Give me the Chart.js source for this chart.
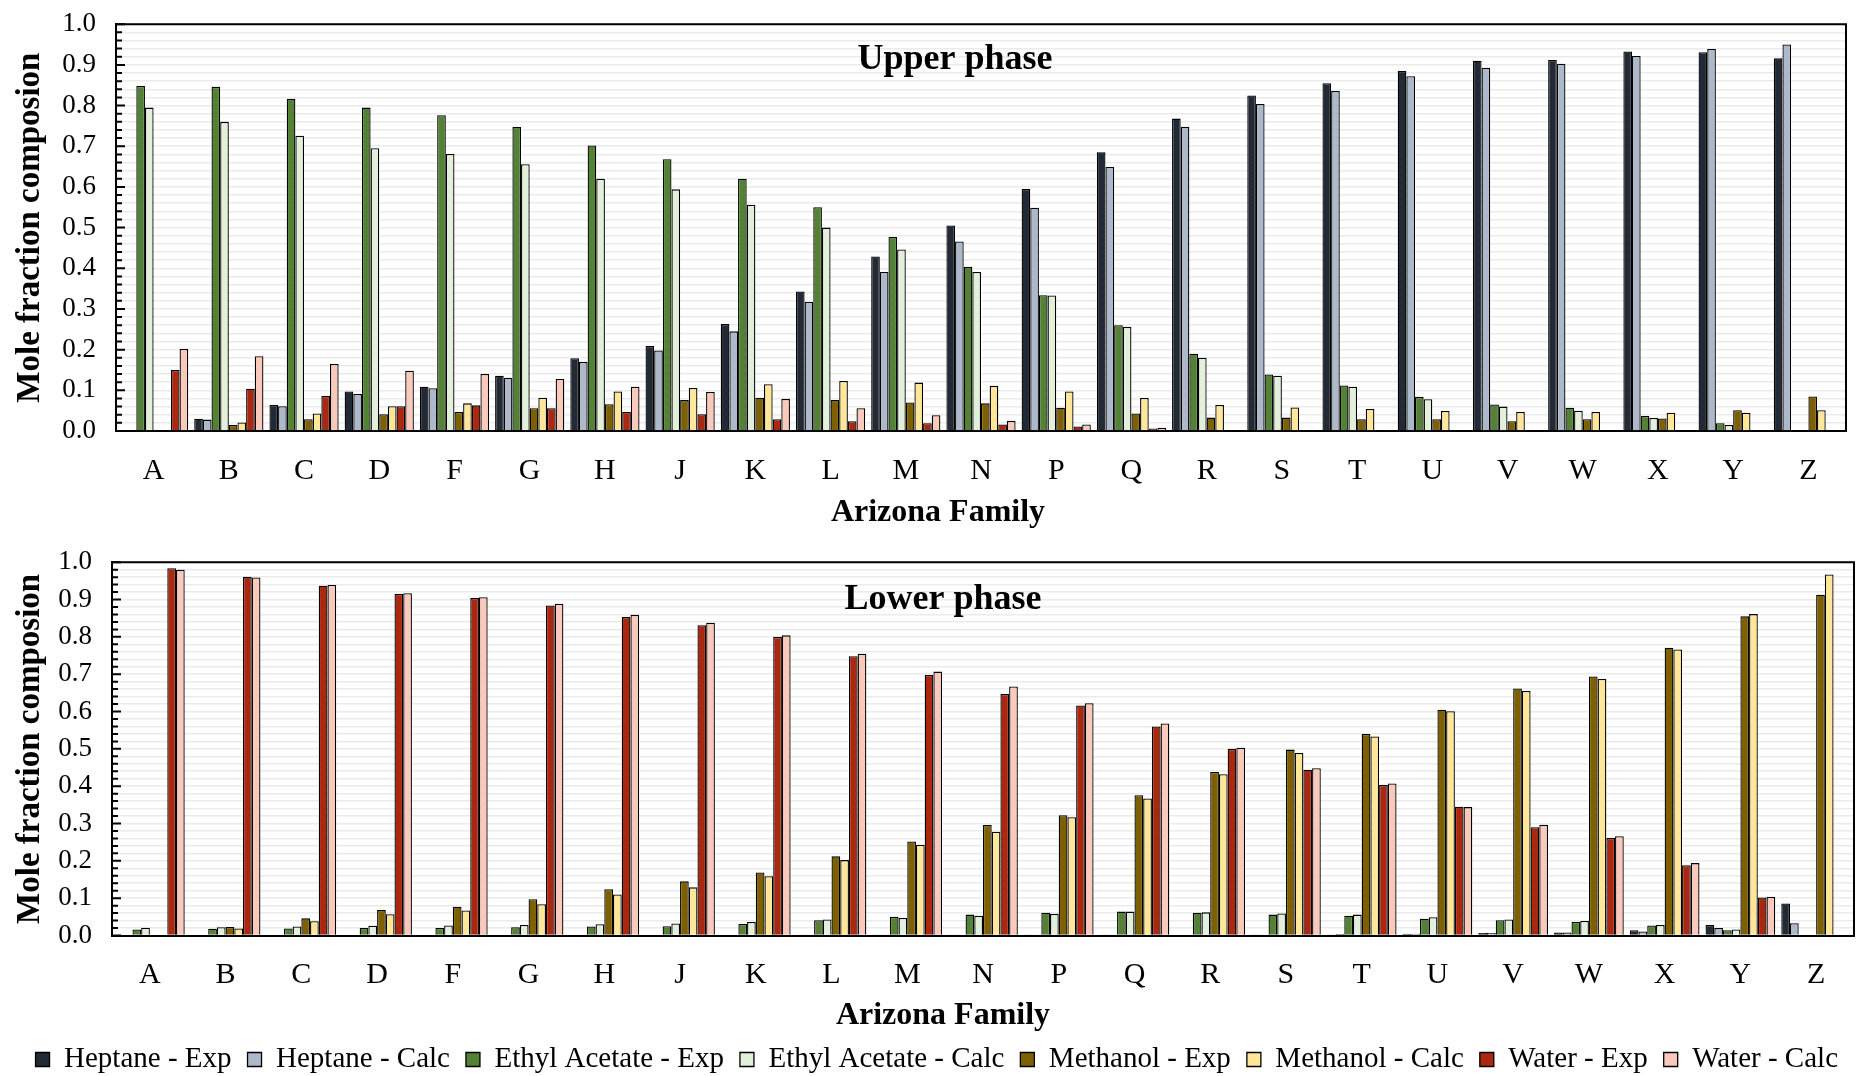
<!DOCTYPE html>
<html>
<head>
<meta charset="utf-8">
<script src="https://cdn.jsdelivr.net/npm/chart.js@4.4.1/dist/chart.umd.min.js"></script>
<style>
  html, body { margin: 0; padding: 0; background: #fff; overflow: hidden; }
  #upperBox { position: absolute; left: 0; top: -12px; width: 1861px; height: 542px; }
  #lowerBox { position: absolute; left: 0; top: 526px; width: 1861px; height: 558px; }
</style>
</head>
<body>
<div id="upperBox"><canvas id="upperChart"></canvas></div>
<div id="lowerBox"><canvas id="lowerChart"></canvas></div>
<script>
const families = ["A", "B", "C", "D", "F", "G", "H", "J", "K", "L", "M", "N", "P", "Q", "R", "S", "T", "U", "V", "W", "X", "Y", "Z"];

const seriesNames = [
    "Heptane - Exp", "Heptane - Calc",
    "Ethyl Acetate - Exp", "Ethyl Acetate - Calc",
    "Methanol - Exp", "Methanol - Calc",
    "Water - Exp", "Water - Calc",
];
const seriesColors = ["#222a35", "#adb9ca", "#548235", "#e2efda", "#7f6000", "#ffe699", "#ab2710", "#f9c9bb"];

const yTickValues = ["0.0", "0.1", "0.2", "0.3", "0.4", "0.5", "0.6", "0.7", "0.8", "0.9", "1.0"];

// upper phase
const heptaneExpUp = [0, 0.030, 0.064, 0.097, 0.109, 0.136, 0.179, 0.209, 0.263, 0.343, 0.429, 0.505, 0.595, 0.685, 0.768, 0.825, 0.855, 0.885, 0.910, 0.912, 0.933, 0.931, 0.916];
const heptaneCalcUp = [0, 0.028, 0.061, 0.091, 0.105, 0.131, 0.170, 0.198, 0.245, 0.317, 0.391, 0.466, 0.549, 0.649, 0.748, 0.804, 0.836, 0.872, 0.893, 0.903, 0.922, 0.939, 0.950];
const ethylAcetateExpUp = [0.848, 0.846, 0.817, 0.795, 0.776, 0.747, 0.702, 0.668, 0.620, 0.550, 0.477, 0.404, 0.334, 0.260, 0.190, 0.139, 0.112, 0.084, 0.065, 0.057, 0.037, 0.019, 0];
const ethylAcetateCalcUp = [0.795, 0.760, 0.726, 0.695, 0.681, 0.656, 0.620, 0.594, 0.556, 0.500, 0.446, 0.391, 0.333, 0.256, 0.180, 0.136, 0.109, 0.078, 0.060, 0.050, 0.032, 0.015, 0];
const methanolExpUp = [0, 0.015, 0.029, 0.041, 0.047, 0.056, 0.066, 0.076, 0.082, 0.076, 0.070, 0.068, 0.057, 0.043, 0.033, 0.033, 0.029, 0.029, 0.024, 0.029, 0.031, 0.051, 0.085];
const methanolCalcUp = [0, 0.021, 0.043, 0.061, 0.068, 0.082, 0.097, 0.106, 0.115, 0.123, 0.119, 0.111, 0.097, 0.081, 0.064, 0.058, 0.054, 0.049, 0.047, 0.047, 0.045, 0.045, 0.051];
const waterExpUp = [0.150, 0.104, 0.086, 0.061, 0.063, 0.056, 0.047, 0.041, 0.029, 0.024, 0.019, 0.016, 0.011, 0.006, 0.002, 0.001, 0.001, 0, 0, 0, 0, 0, 0];
const waterCalcUp = [0.202, 0.184, 0.165, 0.148, 0.140, 0.128, 0.109, 0.096, 0.079, 0.056, 0.039, 0.025, 0.016, 0.008, 0.002, 0.001, 0.001, 0, 0, 0, 0, 0, 0];

// lower phase
const heptaneExpLow = [0, 0, 0, 0, 0, 0, 0, 0, 0, 0.001, 0.001, 0.001, 0.001, 0.001, 0.002, 0.003, 0.003, 0.005, 0.007, 0.008, 0.014, 0.028, 0.086];
const heptaneCalcLow = [0, 0, 0, 0, 0, 0, 0, 0, 0, 0.001, 0.001, 0.001, 0.001, 0.001, 0.002, 0.003, 0.004, 0.005, 0.007, 0.008, 0.011, 0.020, 0.033];
const ethylAcetateExpLow = [0.016, 0.018, 0.019, 0.020, 0.020, 0.022, 0.024, 0.025, 0.031, 0.041, 0.050, 0.056, 0.061, 0.064, 0.061, 0.056, 0.053, 0.045, 0.041, 0.036, 0.027, 0.014, 0];
const ethylAcetateCalcLow = [0.021, 0.022, 0.024, 0.026, 0.027, 0.028, 0.030, 0.032, 0.036, 0.043, 0.047, 0.053, 0.058, 0.064, 0.062, 0.059, 0.056, 0.049, 0.043, 0.039, 0.028, 0.016, 0];
const methanolExpLow = [0, 0.023, 0.046, 0.068, 0.077, 0.097, 0.124, 0.145, 0.169, 0.212, 0.252, 0.296, 0.322, 0.376, 0.438, 0.498, 0.540, 0.605, 0.662, 0.694, 0.771, 0.855, 0.913];
const methanolCalcLow = [0, 0.019, 0.038, 0.057, 0.067, 0.084, 0.110, 0.129, 0.159, 0.202, 0.243, 0.278, 0.317, 0.367, 0.432, 0.489, 0.533, 0.601, 0.655, 0.687, 0.766, 0.861, 0.967];
const waterExpLow = [0.984, 0.961, 0.937, 0.915, 0.904, 0.884, 0.853, 0.831, 0.800, 0.748, 0.698, 0.647, 0.616, 0.560, 0.500, 0.444, 0.403, 0.345, 0.290, 0.261, 0.188, 0.102, 0];
const waterCalcLow = [0.980, 0.959, 0.939, 0.917, 0.906, 0.889, 0.859, 0.838, 0.804, 0.755, 0.707, 0.667, 0.622, 0.568, 0.503, 0.448, 0.407, 0.344, 0.297, 0.266, 0.194, 0.103, 0];

const upperValues = [heptaneExpUp, heptaneCalcUp, ethylAcetateExpUp, ethylAcetateCalcUp, methanolExpUp, methanolCalcUp, waterExpUp, waterCalcUp];
const lowerValues = [heptaneExpLow, heptaneCalcLow, ethylAcetateExpLow, ethylAcetateCalcLow, methanolExpLow, methanolCalcLow, waterExpLow, waterCalcLow];

const serif = "'Liberation Serif', 'Times New Roman', serif";

// frame on top/right, inward ticks on the y axis, phase label and x axis title
const phaseFrame = {
    id: "phaseFrame",
    afterDraw(chart, args, opts) {
        const { ctx, chartArea: a } = chart;
        const y = chart.scales.y;
        ctx.save();
        ctx.strokeStyle = "#000";
        ctx.lineWidth = 2;
        ctx.beginPath();
        ctx.moveTo(a.left, a.top);
        ctx.lineTo(a.right, a.top);
        ctx.lineTo(a.right, a.bottom);
        ctx.stroke();
        ctx.beginPath();
        y.ticks.forEach(function (t) {
            const py = y.getPixelForValue(t.value);
            const major = Math.round(t.value * 50) % 5 === 0;
            ctx.moveTo(a.left, py);
            ctx.lineTo(a.left + (major ? 9 : 6), py);
        });
        ctx.stroke();
        ctx.fillStyle = "#000";
        ctx.textAlign = "center";
        ctx.textBaseline = "middle";
        ctx.font = "bold 36px " + serif;
        ctx.fillText(opts.text, a.left + a.width * opts.xFrac, a.top + opts.dy);
        ctx.font = "bold 32px " + serif;
        ctx.fillText("Arizona Family", opts.titleX, a.bottom + opts.titleDy);
        ctx.restore();
    },
};

function makeDatasets(values) {
    return seriesNames.map(function (name, i) {
        return {
            label: name,
            data: values[i],
            backgroundColor: seriesColors[i],
            borderColor: "#000",
            borderWidth: 1.3,
            categoryPercentage: 0.92,
            barPercentage: 1.0,
        };
    });
}

function makeConfig(values, o) {
    return {
        type: "bar",
        data: { labels: families, datasets: makeDatasets(values) },
        plugins: [phaseFrame],
        options: {
            maintainAspectRatio: false,
            responsive: true,
            animation: false,
            events: [],
            layout: { padding: { top: 0, right: o.padRight, left: 0, bottom: 0 } },
            scales: {
                x: {
                    grid: { display: false, drawTicks: false },
                    border: { color: "#000", width: 2 },
                    ticks: {
                        color: "#000",
                        padding: 22,
                        autoSkip: false,
                        maxRotation: 0,
                        font: { family: serif, size: 30 },
                    },
                    afterFit: function (s) { s.height = o.xHeight; },
                },
                y: {
                    min: 0,
                    max: 1,
                    grid: {
                        drawTicks: false,
                        color: "#ebebeb",
                        lineWidth: 1.5,
                    },
                    border: { color: "#000", width: 2 },
                    ticks: {
                        stepSize: 0.02,
                        autoSkip: false,
                        maxTicksLimit: 100,
                        padding: 20,
                        color: "#000",
                        font: { family: serif, size: 27 },
                        callback: function (v) {
                            const k = Math.round(v * 50);
                            return k % 5 === 0 ? yTickValues[k / 5] : "";
                        },
                    },
                    title: {
                        display: true,
                        text: "Mole fraction composion",
                        color: "#000",
                        padding: { top: 11, bottom: 0 },
                        font: { family: serif, size: 33, weight: "bold" },
                    },
                    afterFit: function (s) { s.width = o.yWidth; },
                },
            },
            plugins: {
                legend: {
                    display: o.legend,
                    position: "bottom",
                    align: "end",
                    labels: {
                        color: "#000",
                        boxWidth: 14,
                        boxHeight: 14,
                        padding: 16,
                        font: { family: serif, size: 29 },
                    },
                },
                tooltip: { enabled: false },
                phaseFrame: { text: o.phase, xFrac: o.xFrac, dy: o.dy, titleX: o.titleX, titleDy: o.titleDy },
            },
        },
    };
}

var upperChart = new Chart(
    document.getElementById("upperChart"),
    makeConfig(upperValues, { yWidth: 116, padRight: 15, xHeight: 99, legend: false, phase: "Upper phase", xFrac: 0.485, dy: 36, titleX: 938, titleDy: 82 })
);

var lowerChart = new Chart(
    document.getElementById("lowerChart"),
    makeConfig(lowerValues, { yWidth: 112, padRight: 7, xHeight: 93.5, legend: true, phase: "Lower phase", xFrac: 0.477, dy: 38, titleX: 943, titleDy: 80 })
);
</script>
</body>
</html>
